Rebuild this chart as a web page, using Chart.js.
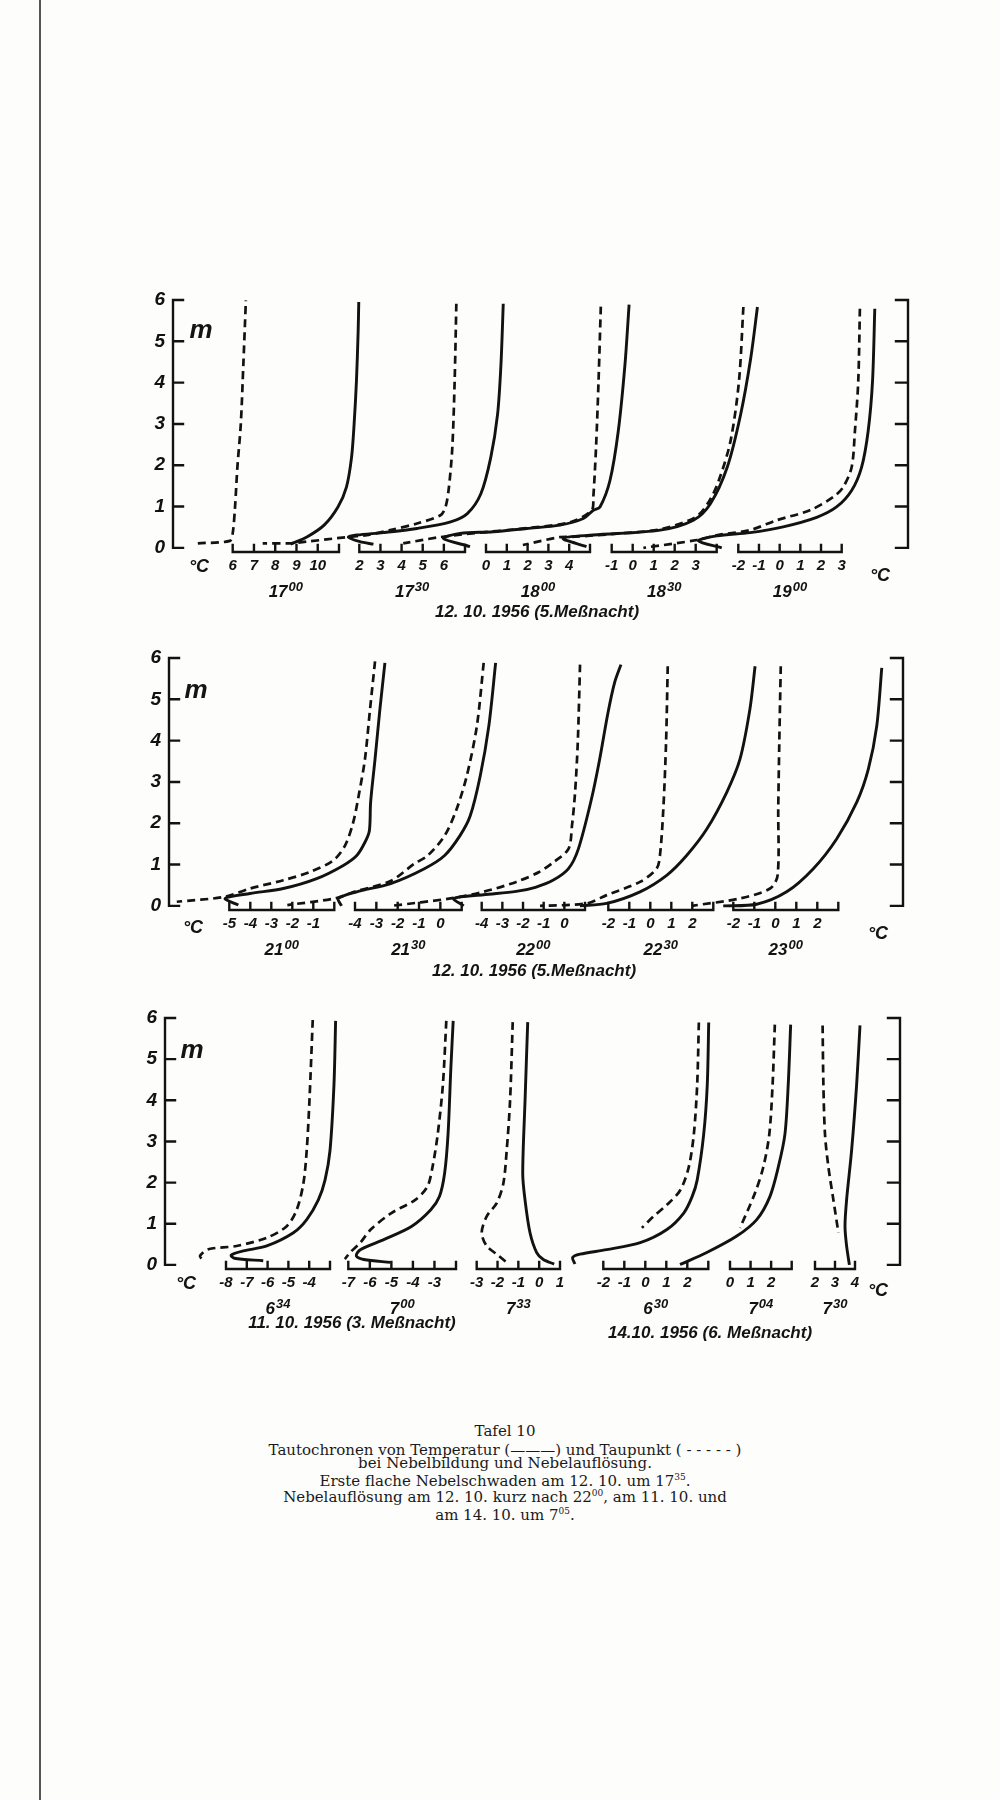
<!DOCTYPE html>
<html>
<head>
<meta charset="utf-8">
<script src="https://cdn.jsdelivr.net/npm/chart.js@4.4.1/dist/chart.umd.min.js"></script>
<style>
html,body{margin:0;padding:0;background:#fff;}
#page{position:relative;width:1000px;height:1800px;background:#fdfdfc;overflow:hidden;}
#page canvas{position:absolute;left:0;}
.t{position:absolute;font-family:'Liberation Sans',Arial,sans-serif;font-style:italic;font-weight:bold;color:#141414;white-space:nowrap;line-height:1;transform:translate(-50%,-50%);}
.cap{position:absolute;left:0;width:1010px;text-align:center;font-family:'DejaVu Serif',serif;font-size:15px;color:#1a1a1a;white-space:nowrap;line-height:1;}
.cap sup{font-size:9px;vertical-align:6px;line-height:0;}
#edge{position:absolute;left:39px;top:0;width:1.5px;height:1800px;background:#555;}
</style>
</head>
<body>
<div id="page"><div id="edge"></div></div>
<script>
// ---------------- DATA ----------------
const heightTicks = [0, 1, 2, 3, 4, 5, 6];

// Row 1: 12.10.1956 (5. Meßnacht) — times as [hour, minutes]
const row1Times = [['17','00'], ['17','30'], ['18','00'], ['18','30'], ['19','00']];
const row1AxisMin = [6, 2, 0, -1, -2];
const row1AxisMax = [11, 7, 5, 4, 3];
const row1TickLabels = [[6,7,8,9,10], [2,3,4,5,6], [0,1,2,3,4], [-1,0,1,2,3], [-2,-1,0,1,2,3]];

// Row 2: 12.10.1956 (5. Meßnacht)
const row2Times = [['21','00'], ['21','30'], ['22','00'], ['22','30'], ['23','00']];
const row2AxisMin = [-5, -4, -4, -2, -2];
const row2AxisMax = [0, 1, 1, 3, 3];
const row2TickLabels = [[-5,-4,-3,-2,-1], [-4,-3,-2,-1,0], [-4,-3,-2,-1,0], [-2,-1,0,1,2], [-2,-1,0,1,2]];

// Row 3: 11.10.1956 (3. Meßnacht) and 14.10.1956 (6. Meßnacht)
const row3Times = [['6','34'], ['7','00'], ['7','33'], ['6','30'], ['7','04'], ['7','30']];
const row3AxisMin = [-8, -7, -3, -2, 0, 2];
const row3AxisMax = [-3, -2, 1, 3, 3, 4];
const row3TickLabels = [[-8,-7,-6,-5,-4], [-7,-6,-5,-4,-3], [-3,-2,-1,0,1], [-2,-1,0,1,2], [0,1,2], [2,3,4]];

const dateLabels = ['12. 10. 1956 (5.Meßnacht)', '12. 10. 1956 (5.Meßnacht)', '11. 10. 1956  (3. Meßnacht)', '14.10. 1956 (6. Meßnacht)'];

// profiles: [temperature °C, height m]  (temp = Temperatur, dew = Taupunkt)
const temp_1700 = [[8.73,0.09],[9.51,0.27],[10.3,0.55],[10.95,0.99],[11.35,1.47],[11.59,2.19],[11.71,2.99],[11.82,4.03],[11.9,5.23],[11.93,5.95]];
const dew_1700  = [[4.36,0.11],[5.87,0.17],[6.0,0.35],[6.11,0.99],[6.22,1.95],[6.38,2.99],[6.5,4.43],[6.62,5.99]];
const temp_1730 = [[8.81,5.91],[8.70,4.43],[8.54,3.23],[8.22,2.19],[7.75,1.31],[7.11,0.83],[6.32,0.63],[4.73,0.47],[3.14,0.37],[1.88,0.31],[1.48,0.26],[2.03,0.15],[2.67,0.09]];
const dew_1730  = [[6.59,5.91],[6.51,4.03],[6.4,2.43],[6.24,1.47],[6.08,0.99],[5.84,0.79],[4.73,0.59],[3.46,0.43],[2.35,0.31],[1.4,0.26],[-0.5,0.15],[-1.3,0.11],[-2.57,0.11]];
const temp_1800 = [[6.88,5.89],[6.68,4.43],[6.36,2.83],[5.96,1.63],[5.48,0.99],[5.16,0.91],[4.68,0.71],[3.56,0.55],[1.96,0.47],[0.35,0.39],[-1.25,0.35],[-2.05,0.23],[-0.77,0.03]];
const dew_1800  = [[5.52,5.84],[5.41,4.03],[5.29,2.43],[5.16,1.23],[5.08,0.91],[4.04,0.62],[1.63,0.46],[-0.29,0.37],[-2.21,0.26],[-3.98,0.11]];
const temp_1830 = [[5.94,5.83],[5.62,4.59],[5.14,3.23],[4.5,1.95],[3.7,1.07],[2.89,0.67],[1.31,0.43],[-1.89,0.31],[-3.32,0.23],[-2.2,0.03]];
const dew_1830  = [[5.27,5.83],[5.06,4.03],[4.66,2.59],[4.1,1.63],[3.62,1.11],[2.99,0.74],[1.31,0.45],[-0.6,0.35],[-2.76,0.27],[-3.47,0.26],[-5.23,0.07]];
const temp_1900 = [[4.6,5.79],[4.49,4.03],[4.28,2.83],[3.96,1.95],[3.48,1.39],[2.75,0.99],[1.79,0.74],[0.17,0.51],[-1.43,0.37],[-3.04,0.29],[-3.93,0.17],[-2.8,0.0]];
const dew_1900  = [[3.88,5.79],[3.8,4.03],[3.64,2.83],[3.48,1.95],[3.07,1.47],[2.59,1.23],[1.46,0.91],[-0.14,0.67],[-1.43,0.43],[-3.0,0.31],[-4.0,0.19],[-6.59,0.0]];

const temp_2100 = [[2.41,5.88],[2.17,4.75],[1.94,3.55],[1.73,2.51],[1.67,1.82],[1.46,1.54],[1.07,1.22],[0.43,0.98],[-0.84,0.66],[-2.43,0.42],[-4.01,0.3],[-5.2,0.18],[-4.57,0.02]];
const dew_2100  = [[1.94,5.92],[1.7,4.75],[1.46,3.55],[1.19,2.75],[0.9,2.02],[0.51,1.46],[-0.05,1.1],[-1.16,0.82],[-2.43,0.62],[-4.01,0.42],[-5.2,0.22],[-7.5,0.1]];
const temp_2130 = [[2.59,5.88],[2.27,4.35],[1.87,3.15],[1.4,2.18],[0.92,1.7],[0.2,1.22],[-0.75,0.9],[-2.33,0.54],[-3.92,0.34],[-4.79,0.18],[-4.63,0.0]];
const dew_2130  = [[2.03,5.88],[1.71,4.35],[1.24,3.15],[0.76,2.34],[0.2,1.7],[-0.59,1.22],[-1.22,1.02],[-2.33,0.6],[-3.92,0.36],[-4.95,0.18],[-7.17,0.02]];
const temp_2200 = [[2.74,5.84],[2.43,5.4],[2.11,4.67],[1.71,3.55],[1.31,2.58],[0.68,1.38],[0.2,0.9],[-0.51,0.63],[-1.4,0.45],[-2.33,0.35],[-3.92,0.27],[-5.35,0.18],[-4.87,0.0]];
const dew_2200  = [[0.76,5.84],[0.65,3.95],[0.52,2.75],[0.37,1.94],[0.2,1.38],[-0.51,1.06],[-1.22,0.82],[-2.33,0.58],[-3.92,0.34],[-5.51,0.18],[-8.37,0.0]];
const temp_2230 = [[4.99,5.8],[4.74,4.75],[4.27,3.55],[3.64,2.75],[2.69,1.86],[1.73,1.22],[0.78,0.74],[-0.49,0.34],[-2.08,0.06],[-3.35,0.0]];
const dew_2230  = [[0.83,5.8],[0.75,3.95],[0.62,2.34],[0.46,1.22],[0.3,0.9],[-0.49,0.58],[-2.08,0.26],[-3.03,0.06],[-5.25,0.0]];
const temp_2300 = [[5.07,5.76],[4.83,4.35],[4.43,3.31],[3.88,2.51],[2.92,1.62],[1.81,0.9],[0.54,0.34],[-0.89,0.04],[-2.48,0.0]];
const dew_2300  = [[0.26,5.8],[0.19,3.95],[0.14,2.34],[0.11,0.74],[-0.25,0.42],[-1.68,0.18],[-3.98,0.0]];

const temp_0634 = [[-2.73,5.93],[-2.81,4.37],[-3.0,2.78],[-3.24,2.06],[-3.56,1.58],[-4.12,1.1],[-4.76,0.78],[-6.04,0.46],[-7.17,0.34],[-7.75,0.24],[-7.6,0.16],[-6.21,0.1]];
const dew_0634  = [[-3.83,5.95],[-3.99,3.97],[-4.12,2.78],[-4.28,1.98],[-4.6,1.34],[-5.08,0.94],[-6.04,0.66],[-7.49,0.46],[-8.85,0.38],[-9.25,0.22],[-9.17,0.14]];
const temp_0700 = [[-2.13,5.93],[-2.24,4.77],[-2.37,3.17],[-2.53,2.22],[-2.77,1.66],[-3.17,1.34],[-4.05,0.94],[-5.33,0.62],[-6.44,0.37],[-6.63,0.22],[-6.28,0.13],[-5.04,0.06]];
const dew_0700  = [[-2.45,5.93],[-2.61,4.37],[-2.85,3.17],[-3.09,2.38],[-3.33,1.9],[-3.89,1.58],[-5.0,1.26],[-5.96,0.86],[-6.44,0.54],[-6.92,0.3],[-7.16,0.14]];
const temp_0733 = [[-0.55,5.9],[-0.68,3.97],[-0.79,2.22],[-0.68,1.58],[-0.44,0.78],[-0.12,0.3],[0.2,0.13],[0.72,0.02]];
const dew_0733  = [[-1.27,5.9],[-1.4,3.97],[-1.56,2.78],[-1.72,1.98],[-2.04,1.5],[-2.52,1.18],[-2.76,0.78],[-2.52,0.46],[-2.04,0.26],[-1.56,0.06]];
const temp_0630 = [[3.02,5.89],[2.95,4.37],[2.78,3.17],[2.47,2.06],[2.23,1.66],[1.83,1.26],[1.03,0.86],[-0.24,0.54],[-1.84,0.37],[-3.11,0.26],[-3.46,0.18],[-3.35,0.02]];
const dew_0630  = [[2.55,5.89],[2.47,4.37],[2.31,3.17],[2.07,2.38],[1.67,1.82],[1.03,1.46],[0.39,1.18],[-0.16,0.9]];
const temp_0704 = [[2.95,5.84],[2.83,4.37],[2.67,3.17],[2.35,2.38],[1.94,1.66],[1.3,1.1],[0.33,0.7],[-1.13,0.3],[-2.43,0.01]];
const dew_0704  = [[2.18,5.84],[2.07,4.37],[1.91,3.17],[1.62,2.38],[1.21,1.74],[0.49,0.9]];
const temp_0730 = [[4.25,5.82],[4.08,4.37],[3.83,2.78],[3.58,1.58],[3.5,0.94],[3.58,0.46],[3.72,0.0]];
const dew_0730  = [[2.38,5.82],[2.42,4.37],[2.5,3.17],[2.67,2.38],[2.92,1.58],[3.17,0.78]];

const row1Temp = [temp_1700, temp_1730, temp_1800, temp_1830, temp_1900];
const row1Dew  = [dew_1700, dew_1730, dew_1800, dew_1830, dew_1900];
const row2Temp = [temp_2100, temp_2130, temp_2200, temp_2230, temp_2300];
const row2Dew  = [dew_2100, dew_2130, dew_2200, dew_2230, dew_2300];
const row3Temp = [temp_0634, temp_0700, temp_0733, temp_0630, temp_0704, temp_0730];
const row3Dew  = [dew_0634, dew_0700, dew_0733, dew_0630, dew_0704, dew_0730];

// ---------------- LAYOUT (positions only) ----------------
const X_AXIS_H = 70;
const LAYOUT = [
  {canvasTop:260, y6:300, axisY:552, frameL:173, frameR:908,
   px:[[232.7,339],[359.3,465],[486,590],[611.7,716.7],[738.3,841.7]]},
  {canvasTop:618, y6:658, axisY:910, frameL:169, frameR:903,
   px:[[229.3,334.3],[355,461.7],[481.7,585],[608.3,713.3],[733.3,838.3]]},
  {canvasTop:978, y6:1018, axisY:1269, frameL:165, frameR:900,
   px:[[226,330],[348.3,456],[476.7,560],[603.3,708.3],[730,791.7],[815,855]]}
];
const ROWDATA = [
  {times:row1Times, mins:row1AxisMin, maxs:row1AxisMax, labels:row1TickLabels, temp:row1Temp, dew:row1Dew},
  {times:row2Times, mins:row2AxisMin, maxs:row2AxisMax, labels:row2TickLabels, temp:row2Temp, dew:row2Dew},
  {times:row3Times, mins:row3AxisMin, maxs:row3AxisMax, labels:row3TickLabels, temp:row3Temp, dew:row3Dew}
];
const FONT = "'Liberation Sans', Arial, sans-serif";
const INK = '#121212';

// ---------------- PLUGINS ----------------
const axesDraw = {
  id: 'axesDraw',
  afterDraw(chart, args, o) {
    const ctx = chart.ctx, ca = chart.chartArea;
    ctx.save();
    ctx.strokeStyle = INK; ctx.lineWidth = 2.4; ctx.lineCap = 'square';
    ctx.beginPath();
    if (o.kind === 'frame') {
      const ys = chart.scales.y;
      const yt = ys.getPixelForValue(6), yb = ys.getPixelForValue(0);
      ctx.moveTo(ca.left, yt); ctx.lineTo(ca.left, yb);
      ctx.moveTo(ca.right, yt); ctx.lineTo(ca.right, yb);
      heightTicks.forEach(v => {
        const p = ys.getPixelForValue(v);
        ctx.moveTo(ca.left, p); ctx.lineTo(ca.left + 10, p);
        ctx.moveTo(ca.right, p); ctx.lineTo(ca.right - 12, p);
      });
    } else {
      const xs = chart.scales.x, b = ca.bottom;
      ctx.moveTo(xs.getPixelForValue(xs.min), b); ctx.lineTo(xs.getPixelForValue(xs.max), b);
      xs.ticks.forEach(t => {
        const p = xs.getPixelForValue(t.value);
        ctx.moveTo(p, b); ctx.lineTo(p, b - 7);
      });
    }
    ctx.stroke();
    ctx.restore();
  }
};

// time label under each sub-axis, with raised minutes (e.g. 17 with superscript 00)
const timeLabel = {
  id: 'timeLabel',
  afterDraw(chart, args, o) {
    if (!o || !o.base) return;
    const xs = chart.scales.x, ctx = chart.ctx;
    const cx = (xs.left + xs.right) / 2;
    const base = chart.chartArea.bottom + 45;
    const fb = `italic bold 17px ${FONT}`, fs = `italic bold 13px ${FONT}`;
    ctx.save();
    ctx.fillStyle = INK; ctx.textBaseline = 'alphabetic'; ctx.textAlign = 'left';
    ctx.font = fb; const wb = ctx.measureText(o.base).width;
    ctx.font = fs; const ws = ctx.measureText(o.sup).width;
    const x0 = cx - (wb + ws + 1) / 2;
    ctx.font = fb; ctx.fillText(o.base, x0, base);
    ctx.font = fs; ctx.fillText(o.sup, x0 + wb + 1, base - 6);
    ctx.restore();
  }
};

const page = document.getElementById('page');
function makeCanvas(top, h) {
  const c = document.createElement('canvas');
  c.width = 1000; c.height = h;
  c.style.top = top + 'px'; c.style.width = '1000px'; c.style.height = h + 'px';
  page.appendChild(c);
  return c;
}
function toPts(arr) { return arr.map(p => ({x: p[0], y: p[1]})); }

LAYOUT.forEach((L, r) => {
  const D = ROWDATA[r];
  const H = (L.axisY - L.canvasTop) + X_AXIS_H;
  const padTop = L.y6 - L.canvasTop;

  // frame chart (height axis left + right bracket)
  new Chart(makeCanvas(L.canvasTop, H), {
    type: 'scatter',
    data: {datasets: []},
    options: {
      responsive: false, animation: false, events: [],
      layout: {padding: {left: L.frameL - 40, right: 1000 - L.frameR, top: padTop, bottom: 0}},
      plugins: {legend: {display: false}, tooltip: {enabled: false}, axesDraw: {kind: 'frame'}},
      scales: {
        x: {type: 'linear', min: 0, max: 1, ticks: {display: false}, grid: {display: false, drawTicks: false},
            border: {display: false}, afterFit: s => { s.height = X_AXIS_H; }},
        y: {type: 'linear', min: -0.1, max: 6,
            ticks: {stepSize: 1, includeBounds: false, padding: 8, color: INK,
                    font: {family: FONT, style: 'italic', weight: 'bold', size: 19},
                    callback: v => heightTicks.includes(v) ? String(v) : ''},
            grid: {display: false, drawTicks: false}, border: {display: false},
            afterFit: s => { s.width = 40; }}
      }
    },
    plugins: [axesDraw]
  });

  // one chart per tautochrone
  L.px.forEach((range, i) => {
    const labs = D.labels[i];
    new Chart(makeCanvas(L.canvasTop, H), {
      type: 'scatter',
      data: {datasets: [
        {label: 'Temperatur', data: toPts(D.temp[i]), showLine: true, borderColor: INK, borderWidth: 2.9,
         pointRadius: 0, tension: 0.3, clip: false, fill: false},
        {label: 'Taupunkt', data: toPts(D.dew[i]), showLine: true, borderColor: INK, borderWidth: 2.7,
         borderDash: [8, 5], pointRadius: 0, tension: 0.3, clip: false, fill: false}
      ]},
      options: {
        responsive: false, animation: false, events: [], indexAxis: 'y',
        elements: {line: {capBezierPoints: false}},
        layout: {padding: {left: range[0], right: 1000 - range[1], top: padTop, bottom: 0}},
        plugins: {legend: {display: false}, tooltip: {enabled: false}, axesDraw: {kind: 'sub'},
                  timeLabel: {base: D.times[i][0], sup: D.times[i][1]}},
        scales: {
          x: {type: 'linear', min: D.mins[i], max: D.maxs[i],
              ticks: {stepSize: 1, autoSkip: false, maxRotation: 0, padding: 5, color: INK,
                      font: {family: FONT, style: 'italic', weight: 'bold', size: 15},
                      callback: v => labs.includes(v) ? String(v) : ''},
              grid: {display: false, drawTicks: false}, border: {display: false},
              afterFit: s => { s.height = X_AXIS_H; }},
          y: {type: 'linear', min: -0.1, max: 6, display: false}
        }
      },
      plugins: [axesDraw, timeLabel]
    });
  });
});

// ---------------- TEXT LABELS ----------------
function addText(txt, x, y, size) {
  const d = document.createElement('div');
  d.className = 't';
  d.style.left = x + 'px'; d.style.top = y + 'px'; d.style.fontSize = size + 'px';
  d.textContent = txt;
  page.appendChild(d);
  return d;
}
// unit labels
addText('m', 201, 329, 26); addText('m', 196, 689, 26); addText('m', 192, 1049, 26);
addText('°C', 199, 566, 18); addText('°C', 193, 927, 18); addText('°C', 186, 1283, 18);
addText('°C', 880, 575, 18); addText('°C', 878, 933, 18); addText('°C', 878, 1290, 18);
// date labels
addText(dateLabels[0], 537, 611, 17);
addText(dateLabels[1], 534, 970, 17);
addText(dateLabels[2], 352, 1322, 17);
addText(dateLabels[3], 710, 1332, 17);

// caption
const captionLines = [
  ['Tafel 10', 1432],
  ['Tautochronen von Temperatur (\u2014\u2014\u2014) und Taupunkt ( - - - - - )', 1451],
  ['bei Nebelbildung und Nebelauflösung.', 1464],
  ['Erste flache Nebelschwaden am 12. 10. um 17<sup>35</sup>.', 1482],
  ['Nebelauflösung am 12. 10. kurz nach 22<sup>00</sup>, am 11. 10. und', 1498],
  ['am 14. 10. um 7<sup>05</sup>.', 1516]
];
captionLines.forEach(([txt, y]) => {
  const d = document.createElement('div');
  d.className = 'cap';
  d.style.top = (y - 8) + 'px';
  d.innerHTML = txt;
  page.appendChild(d);
});
</script>
</body>
</html>
